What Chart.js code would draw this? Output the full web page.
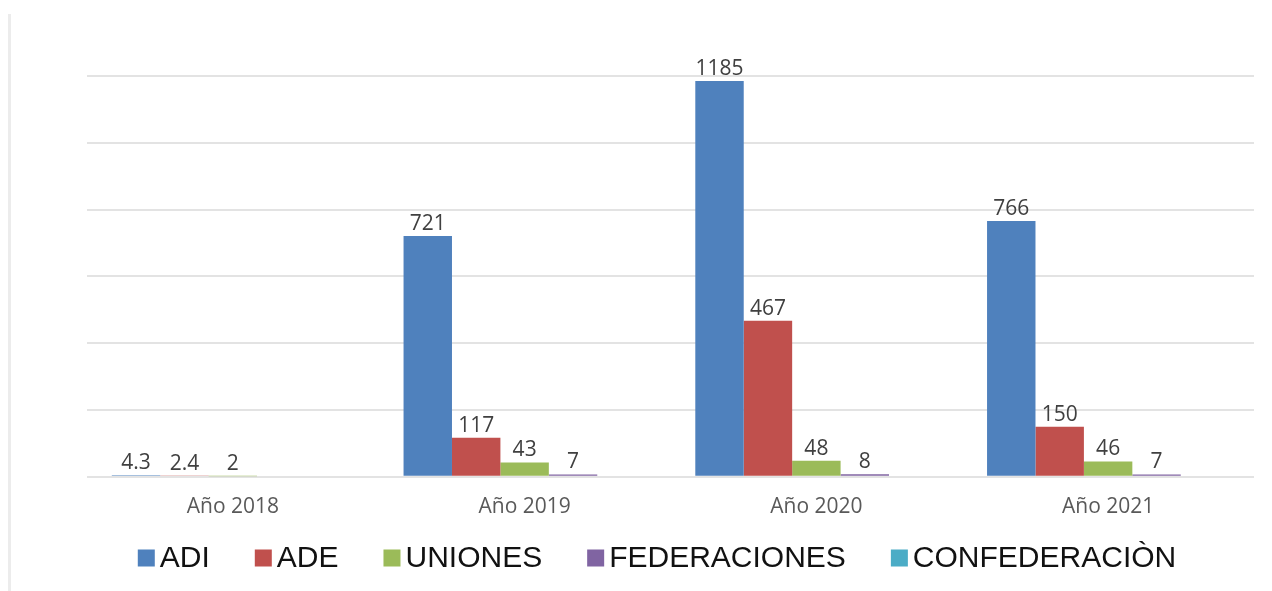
<!DOCTYPE html>
<html>
<head>
<meta charset="utf-8">
<script src="https://cdn.jsdelivr.net/npm/chart.js@4.4.0/dist/chart.umd.min.js"></script>
<style>
    html, body { margin: 0; padding: 0; background: #fff; }
    #wrap { position: relative; width: 1272px; height: 591px; }
    #frame { position: absolute; left: 8px; top: 14px; width: 3px; height: 577px; background: #ececec; }
    canvas { position: absolute; left: 0; top: 0; }
</style>
</head>
<body>
<div id="wrap">
    <div id="frame"></div>
    <canvas id="chart" width="1272" height="591"></canvas>
</div>
<script>
const years = ['Año 2018', 'Año 2019', 'Año 2020', 'Año 2021'];
const seriesNames = ['ADI', 'ADE', 'UNIONES', 'FEDERACIONES', 'CONFEDERACIÒN'];
const seriesColors = ['#4f81bd', '#c0504d', '#9bbb59', '#8064a2', '#4bacc6'];
const adi = [4.3, 721, 1185, 766];
const ade = [2.4, 117, 467, 150];
const uniones = [2, 43, 48, 46];
const federaciones = [null, 7, 8, 7];
const confederacion = [null, null, null, null];
const yTicks = [0, 200, 400, 600, 800, 1000, 1200];

const seriesValues = [adi, ade, uniones, federaciones, confederacion];

// value labels above each bar
const valueLabels = {
    id: 'valueLabels',
    afterDatasetsDraw(chart) {
        const ctx = chart.ctx;
        ctx.save();
        ctx.font = '21px "Open Sans"';
        ctx.fillStyle = '#404040';
        ctx.textAlign = 'center';
        ctx.textBaseline = 'alphabetic';
        chart.data.datasets.forEach((ds, i) => {
            const meta = chart.getDatasetMeta(i);
            meta.data.forEach((bar, j) => {
                const v = ds.data[j];
                if (v === null || v === undefined) return;
                ctx.fillText(String(v), bar.x, bar.y - 6);
            });
        });
        ctx.restore();
    }
};

// legend drawn by hand so the box/text spacing matches
const bottomLegend = {
    id: 'bottomLegend',
    afterDraw(chart) {
        const ctx = chart.ctx;
        const box = 17;
        const gapText = 5;
        const gapItem = 45;
        const y = 558;
        ctx.save();
        ctx.font = '30px "Liberation Sans", Arial, sans-serif';
        ctx.textBaseline = 'middle';
        let total = 0;
        chart.data.datasets.forEach((ds, i) => {
            total += box + gapText + ctx.measureText(ds.label).width;
            if (i < chart.data.datasets.length - 1) total += gapItem;
        });
        let x = 657 - total / 2;
        chart.data.datasets.forEach(ds => {
            ctx.fillStyle = ds.backgroundColor;
            ctx.fillRect(x, y - box / 2, box, box);
            x += box + gapText;
            ctx.fillStyle = '#111';
            ctx.fillText(ds.label, x, y + 1);
            x += ctx.measureText(ds.label).width + gapItem;
        });
        ctx.restore();
    }
};

new Chart(document.getElementById('chart'), {
    type: 'bar',
    data: {
        labels: years,
        datasets: seriesNames.map((name, i) => ({
            label: name,
            data: seriesValues[i],
            backgroundColor: seriesColors[i],
            borderWidth: 0,
            categoryPercentage: 0.83,
            barPercentage: 1.0
        }))
    },
    options: {
        responsive: false,
        animation: false,
        layout: { padding: { left: 87, right: 18, top: 76, bottom: 61 } },
        plugins: {
            legend: { display: false },
            tooltip: { enabled: false }
        },
        scales: {
            x: {
                grid: { display: false },
                border: { display: false },
                ticks: {
                    color: '#595959',
                    font: { family: '"Open Sans"', size: 21 },
                    padding: 10
                }
            },
            y: {
                min: yTicks[0],
                max: yTicks[yTicks.length - 1],
                afterBuildTicks: axis => { axis.ticks = yTicks.map(v => ({ value: v })); },
                ticks: { display: false },
                grid: { color: '#e3e3e3', lineWidth: 2, drawTicks: false },
                border: { display: false }
            }
        }
    },
    plugins: [valueLabels, bottomLegend]
});
</script>
</body>
</html>
